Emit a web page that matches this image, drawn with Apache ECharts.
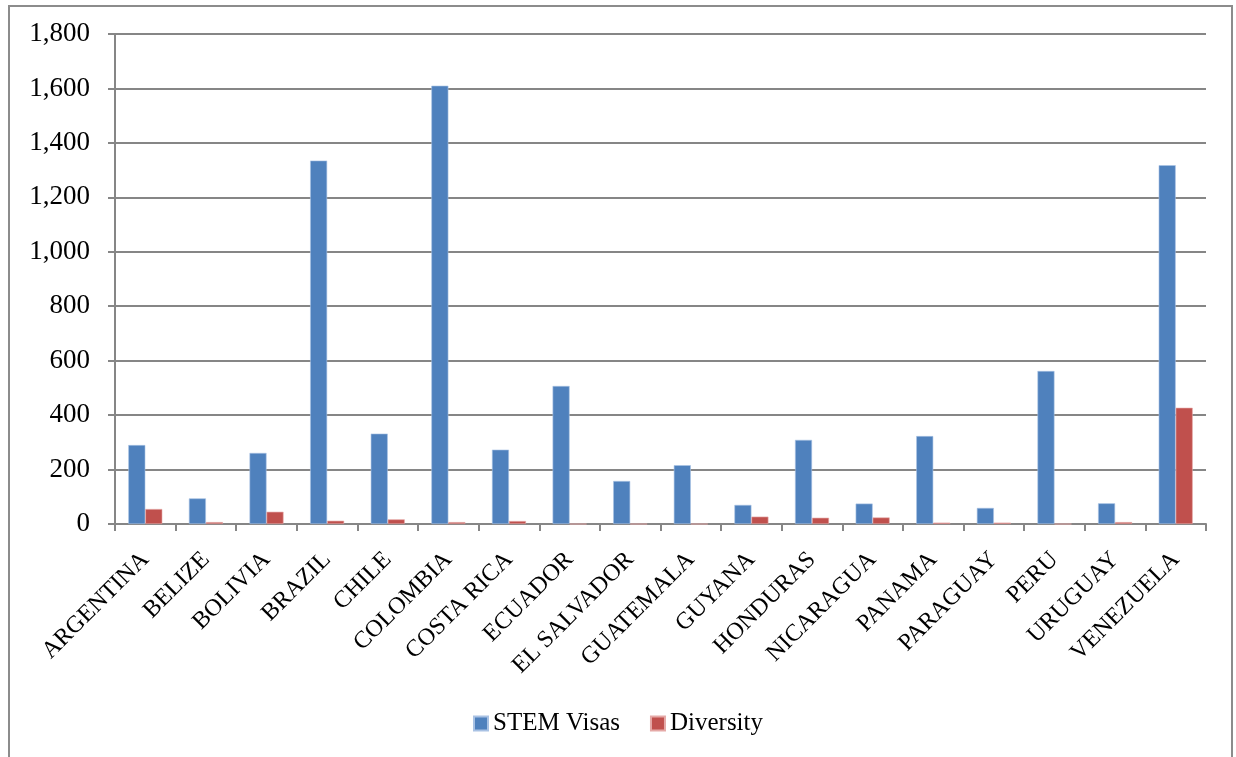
<!DOCTYPE html>
<html>
<head>
<meta charset="utf-8">
<script src="https://cdn.jsdelivr.net/npm/echarts@6/dist/echarts.min.js"></script>
<style>
  html, body { margin: 0; padding: 0; background: #ffffff; }
  #chart { width: 1236px; height: 757px; }
</style>
</head>
<body>
<div id="chart"></div>
<script>
// Countries on the category axis
const countries = [
  'ARGENTINA', 'BELIZE', 'BOLIVIA', 'BRAZIL', 'CHILE', 'COLOMBIA',
  'COSTA RICA', 'ECUADOR', 'EL SALVADOR', 'GUATEMALA', 'GUYANA',
  'HONDURAS', 'NICARAGUA', 'PANAMA', 'PARAGUAY', 'PERU', 'URUGUAY', 'VENEZUELA'
];
// Visa counts per country
const stemVisas = [290, 94, 261, 1335, 332, 1610, 273, 507, 158, 216, 70, 309, 75, 323, 59, 562, 76, 1318];
const diversity = [55, 7, 45, 12, 17, 7, 11, 0, 0, 0, 27, 23, 24, 5, 5, 0, 7, 427];
// Value axis range
const yMin = 0, yMax = 1800, yStep = 200;

const FONT = 'Liberation Serif';
const GRAY = '#868686';

const chart = echarts.init(document.getElementById('chart'), null, { renderer: 'canvas' });
chart.setOption({
  animation: false,
  backgroundColor: '#ffffff',
  textStyle: { fontFamily: FONT },
  graphic: [{
    type: 'rect',
    shape: { x: 9, y: 6, width: 1223, height: 760 },
    style: { fill: 'none', stroke: '#8c8c8c', lineWidth: 2 },
    silent: true
  }],
  grid: { left: 115, right: 30, top: 34, bottom: 233, containLabel: false },
  legend: {
    top: 706,
    left: 'center',
    itemWidth: 14,
    itemHeight: 14,
    itemGap: 30,
    icon: 'rect',
    textStyle: { fontFamily: FONT, fontSize: 25, color: '#000' },
    data: ['STEM Visas', 'Diversity']
  },
  xAxis: {
    type: 'category',
    data: countries,
    axisLine: { lineStyle: { color: GRAY, width: 2 } },
    axisTick: { show: true, length: 7, lineStyle: { color: GRAY, width: 2 } },
    axisLabel: {
      rotate: 45,
      interval: 0,
      margin: 32,
      fontFamily: FONT,
      fontSize: 24,
      color: '#000'
    }
  },
  yAxis: {
    type: 'value',
    min: yMin,
    max: yMax,
    interval: yStep,
    axisLine: { show: true, lineStyle: { color: GRAY, width: 2 } },
    axisTick: { show: true, length: 7, lineStyle: { color: GRAY, width: 2 } },
    splitLine: { lineStyle: { color: GRAY, width: 2 } },
    axisLabel: {
      margin: 25,
      fontFamily: FONT,
      fontSize: 27,
      color: '#000',
      formatter: v => v.toLocaleString('en-US')
    }
  },
  series: [
    {
      name: 'STEM Visas',
      type: 'bar',
      data: stemVisas,
      barWidth: 17,
      barGap: '0%',
      itemStyle: { color: '#4f81bd', borderColor: '#a9c2e4', borderWidth: 0.6 }
    },
    {
      name: 'Diversity',
      type: 'bar',
      data: diversity,
      barWidth: 17,
      barGap: '0%',
      itemStyle: { color: '#c0504d', borderColor: '#e5a9a7', borderWidth: 0.6 }
    }
  ]
});
</script>
</body>
</html>
